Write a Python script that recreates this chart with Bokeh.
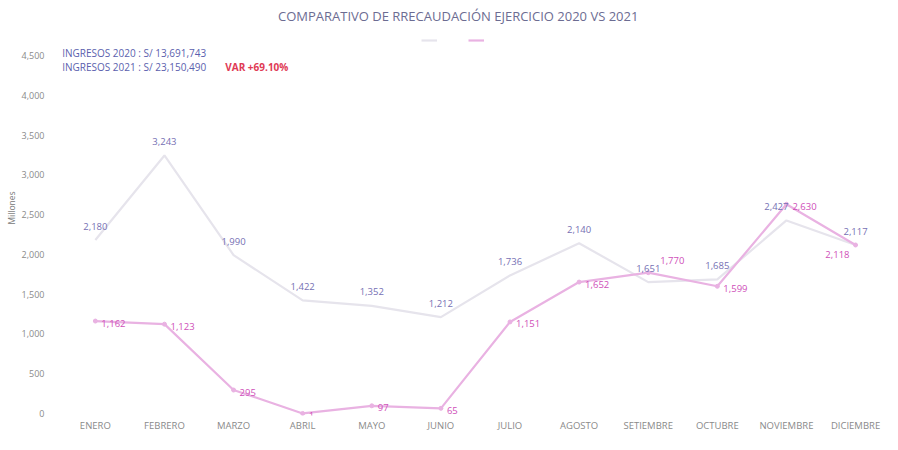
from bokeh.plotting import figure
from bokeh.models import (ColumnDataSource, LabelSet, Label, Range1d, FixedTicker,
                          Legend, LegendItem)
from bokeh.embed import file_html
from bokeh.resources import INLINE
from bokeh.core.properties import value

months = ["ENERO", "FEBRERO", "MARZO", "ABRIL", "MAYO", "JUNIO", "JULIO",
          "AGOSTO", "SETIEMBRE", "OCTUBRE", "NOVIEMBRE", "DICIEMBRE"]
ingresos_2020 = [1162, 1123, 295, 1, 97, 65, 1151, 1652, 1770, 1599, 2630, 2118]
ingresos_2021 = [2180, 3243, 1990, 1422, 1352, 1212, 1736, 2140, 1651, 1685, 2427, 2117]
y_ticks = [0, 500, 1000, 1500, 2000, 2500, 3000, 3500, 4000, 4500]
y_tick_labels = ["0", "500", "1,000", "1,500", "2,000", "2,500", "3,000", "3,500", "4,000", "4,500"]
title_text = "COMPARATIVO DE RRECAUDACIÓN EJERCICIO 2020 VS 2021"
total_2020 = "INGRESOS 2020 : S/ 13,691,743"
total_2021 = "INGRESOS 2021 : S/ 23,150,490"
var_text = "VAR +69.10%"
y_axis_title = "Millones"

FONT = "Open Sans"
PINK_LINE = "#e9b2e2"
PINK_TEXT = "#cf4fb9"
GREY_LINE = "#e6e4ec"
GREY_TEXT = "#7670b4"

xs = list(range(len(months)))
n = len(months)

# label placement per point (offsets in pixels)
pink_align = ["left"] * 11 + ["right"]
pink_xo = [6, 6, 6, 6, 6, 6, 6, 6, 12, 6, 6, -6]
pink_yo = [-2, -2, -2, -2, -2, -2, -2, -2, 12, -2, -2, -10]
grey_align = ["center"] * 10 + ["right", "center"]
grey_xo = [0] * 10 + [2, 0]
grey_yo = [14] * 12

src20 = ColumnDataSource(dict(x=xs, y=ingresos_2020, t=[f"{v:,}" for v in ingresos_2020],
                              align=pink_align, xo=pink_xo, yo=pink_yo))
src21 = ColumnDataSource(dict(x=xs, y=ingresos_2021, t=[f"{v:,}" for v in ingresos_2021],
                              align=grey_align, xo=grey_xo, yo=grey_yo))

p = figure(width=882, height=434, output_backend="svg", toolbar_location=None,
           x_range=Range1d(-0.62, 11.39), y_range=Range1d(-25, 5191),
           min_border_left=52, min_border_right=0, min_border_top=0, min_border_bottom=0)
p.outline_line_color = None
p.grid.grid_line_color = None
p.background_fill_color = "white"
p.border_fill_color = "white"

r21 = p.line("x", "y", source=src21, line_color=GREY_LINE, line_width=2.2)
r20 = p.line("x", "y", source=src20, line_color=PINK_LINE, line_width=2.2)
p.scatter("x", "y", source=src20, size=4, color=PINK_LINE)

p.add_layout(LabelSet(x="x", y="y", text="t", source=src21, text_align="align",
                      text_baseline="middle", x_offset="xo", y_offset="yo", text_font=value(FONT),
                      text_font_size="9.5px", text_color=GREY_TEXT))
p.add_layout(LabelSet(x="x", y="y", text="t", source=src20, text_align="align",
                      text_baseline="middle", x_offset="xo", y_offset="yo", text_font=value(FONT),
                      text_font_size="9.5px", text_color=PINK_TEXT))

# axes
p.xaxis.ticker = FixedTicker(ticks=xs)
p.xaxis.major_label_overrides = {i: m for i, m in enumerate(months)}
p.yaxis.ticker = FixedTicker(ticks=y_ticks)
p.yaxis.major_label_overrides = {t: l for t, l in zip(y_ticks, y_tick_labels)}
for ax in (p.xaxis, p.yaxis):
    ax.axis_line_color = None
    ax.major_tick_line_color = None
    ax.minor_tick_line_color = None
    ax.major_tick_out = 0
    ax.major_tick_in = 0
    ax.minor_tick_out = 0
    ax.minor_tick_in = 0
    ax.major_label_text_font = FONT
    ax.major_label_text_color = "#8a8a8a"
p.xaxis.major_label_text_font_size = "9.5px"
p.yaxis.major_label_text_font_size = "9px"
p.xaxis.major_label_standoff = 3
p.yaxis.major_label_standoff = 8
p.yaxis.axis_label = y_axis_title
p.yaxis.axis_label_text_font = FONT
p.yaxis.axis_label_text_font_size = "8.5px"
p.yaxis.axis_label_text_font_style = "normal"
p.yaxis.axis_label_text_color = "#777777"
p.yaxis.axis_label_standoff = 2

# title and totals (data coordinates inside the tall frame)
p.add_layout(Label(x=5.25, y=5002, text=title_text, text_align="center", text_baseline="middle",
                   text_font=FONT, text_font_size="13px", text_color="#6c6c92"))
p.add_layout(Label(x=-0.48, y=4537, text=total_2020, text_align="left", text_baseline="middle",
                   text_font=FONT, text_font_size="10px", text_color="#5b5fae"))
p.add_layout(Label(x=-0.48, y=4349, text=total_2021, text_align="left", text_baseline="middle",
                   text_font=FONT, text_font_size="10px", text_color="#5b5fae"))
p.add_layout(Label(x=1.88, y=4349, text=var_text, text_align="left", text_baseline="middle",
                   text_font=FONT, text_font_size="10px", text_font_style="bold",
                   text_color="#e03a55"))

legend = Legend(items=[LegendItem(label=" ", renderers=[r21]),
                       LegendItem(label=" ", renderers=[r20])],
                orientation="horizontal", location=(369, 372), border_line_color=None,
                background_fill_alpha=0, glyph_width=16, glyph_height=6,
                label_text_font_size="6px", spacing=6, padding=0, margin=0)
p.add_layout(legend)

open("out.html", "w").write(file_html(p, INLINE))
